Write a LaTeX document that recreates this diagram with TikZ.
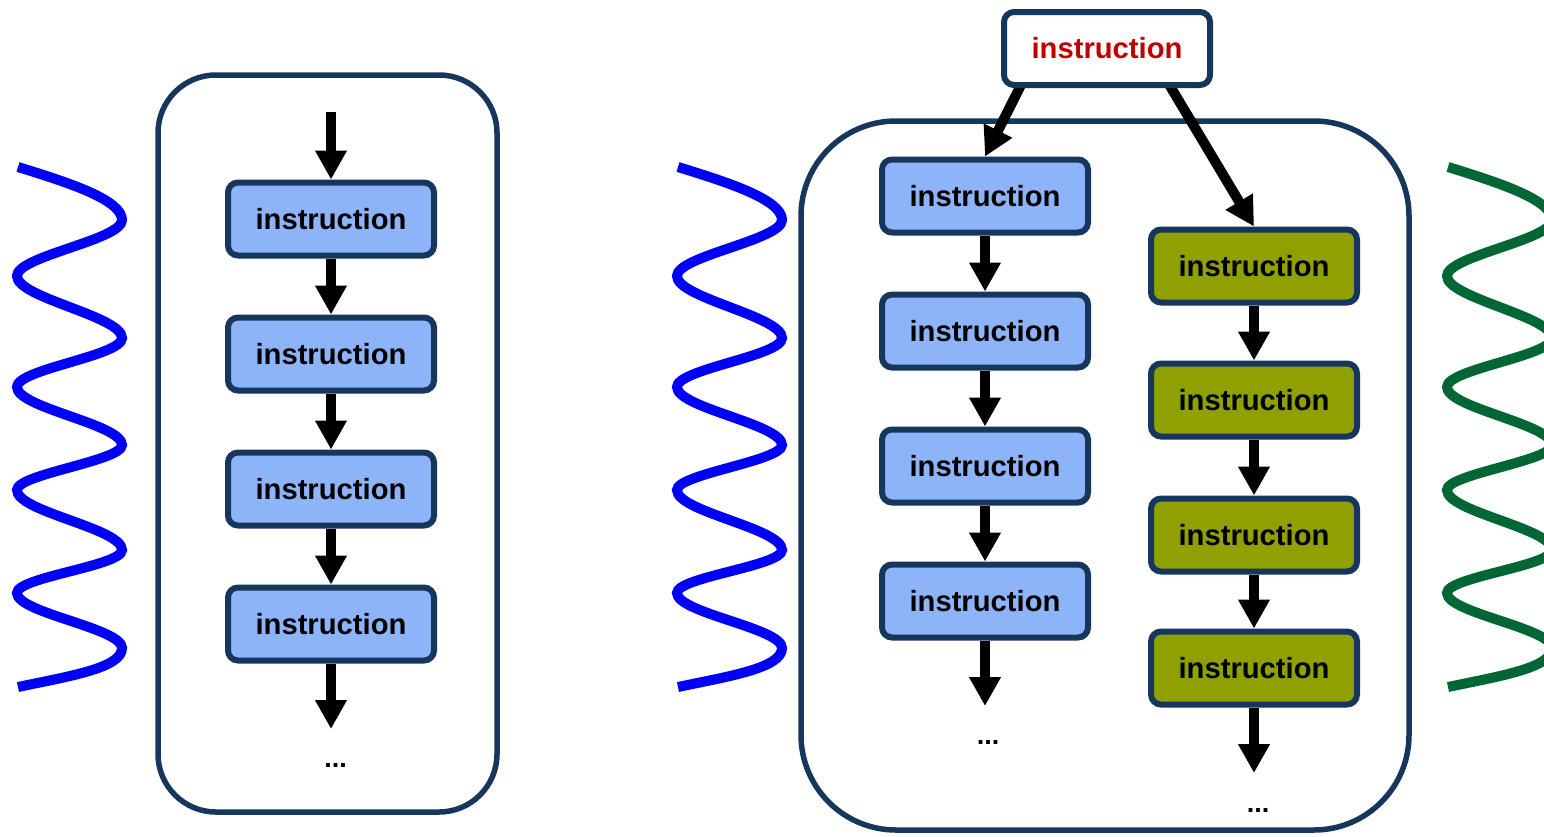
\documentclass[tikz,border=0pt]{standalone}
\usepackage{fontspec}
\setmainfont{Liberation Sans}
\usetikzlibrary{arrows.meta,calc,backgrounds}
\definecolor{navy}{RGB}{23,54,93}
\definecolor{boxblue}{RGB}{141,180,248}
\definecolor{olivefill}{RGB}{143,160,0}
\definecolor{wblue}{RGB}{0,0,250}
\definecolor{wgreen}{RGB}{0,102,51}
\definecolor{ired}{RGB}{192,0,0}
\tikzset{
  ibox/.style={draw=navy, line width=6pt, rounded corners=10pt,
    minimum width=206pt, minimum height=73pt, inner sep=0pt,
    font=\fontsize{29.2}{31}\selectfont\bfseries},
  bluebox/.style={ibox, fill=boxblue},
  olivebox/.style={ibox, fill=olivefill},
  topbox/.style={ibox, fill=white, text=ired},
  dotsnode/.style={inner sep=0pt, font=\fontsize{27}{30}\selectfont\bfseries},
  container/.style={draw=navy, line width=5.5pt},
  flow/.style={line width=10pt, -{Triangle[length=29pt,width=30pt]}},
  wavepic/.pic={
    \draw[line width=10pt]
      (18,167) .. controls (70,183) and (122,200) .. (122,220)
      .. controls (122,240) and (17,256) .. (17,276)
      .. controls (17,298) and (122,316) .. (122,338)
      .. controls (122,356) and (17,369) .. (17,387)
      .. controls (17,408) and (122,424) .. (122,445)
      .. controls (122,461) and (17,474) .. (17,490)
      .. controls (17,512) and (122,528) .. (122,550)
      .. controls (122,566) and (17,577) .. (17,593)
      .. controls (17,613) and (122,628) .. (122,648)
      .. controls (122,668) and (70,676) .. (18,687);
  }
}
\begin{document}
\begin{tikzpicture}[x=1pt, y=-1pt]
\useasboundingbox (0,0) rectangle (1544,836);

% waves
\pic[color=wblue] at (0,0) {wavepic};
\pic[color=wblue] at (660,0) {wavepic};
\pic[color=wgreen] at (1430,0) {wavepic};

% left thread
\node[bluebox] (L1) at (331,219) {instruction};
\node[bluebox] (L2) at (331,354) {instruction};
\node[bluebox] (L3) at (331,489) {instruction};
\node[bluebox] (L4) at (331,624) {instruction};
\coordinate (Ls) at (331,112);
\coordinate (Le) at (331,729);
\node[dotsnode] (Ld) at (335.5,765) {...};

% right threads
\node[topbox] (T) at (1107,48.5) {instruction};
\node[bluebox] (B1) at (985,196) {instruction};
\node[bluebox] (B2) at (985,331) {instruction};
\node[bluebox] (B3) at (985,466) {instruction};
\node[bluebox] (B4) at (985,601) {instruction};
\coordinate (Be) at (985,706);
\node[dotsnode] (Bd) at (988,742) {...};

\node[olivebox] (O1) at (1254,266) {instruction};
\node[olivebox] (O2) at (1254,400) {instruction};
\node[olivebox] (O3) at (1254,535) {instruction};
\node[olivebox] (O4) at (1254,668) {instruction};
\coordinate (Oe) at (1254,773);
\node[dotsnode] (Od) at (1258,810) {...};

\coordinate (Ta) at (1023,81);
\coordinate (Tb) at (1167,81);

\begin{pgfonlayer}{background}
  \draw[container, rounded corners=58pt] (158,75) rectangle (497,812);
  \draw[container, rounded corners=95pt] (801,121) rectangle (1409,830);
  \draw[flow] (Ta) -- (B1.north);
  \draw[flow] (Tb) -- (O1.north);
\end{pgfonlayer}

\draw[flow] (Ls) -- (L1.north);
\draw[flow] (L1.south) -- (L2.north);
\draw[flow] (L2.south) -- (L3.north);
\draw[flow] (L3.south) -- (L4.north);
\draw[flow] (L4.south) -- (Le);

\draw[flow] (B1.south) -- (B2.north);
\draw[flow] (B2.south) -- (B3.north);
\draw[flow] (B3.south) -- (B4.north);
\draw[flow] (B4.south) -- (Be);

\draw[flow] (O1.south) -- (O2.north);
\draw[flow] (O2.south) -- (O3.north);
\draw[flow] (O3.south) -- (O4.north);
\draw[flow] (O4.south) -- (Oe);
\end{tikzpicture}
\end{document}
